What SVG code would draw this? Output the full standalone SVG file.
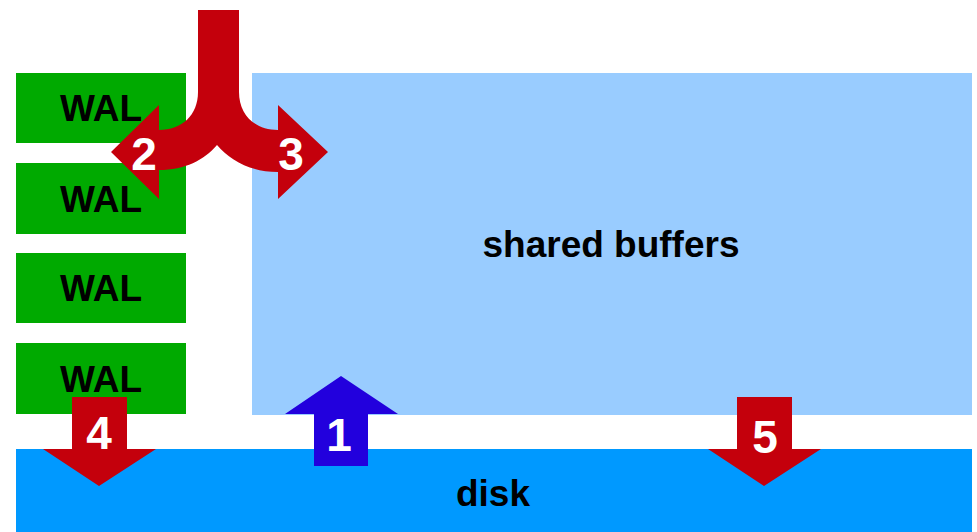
<svg xmlns="http://www.w3.org/2000/svg" width="977" height="532" viewBox="0 0 977 532">
<style>
.lbl{font-family:"Liberation Sans",Arial,sans-serif;font-weight:bold;font-size:37px;fill:#000;text-anchor:middle}
.num{font-family:"Liberation Sans",Arial,sans-serif;font-weight:bold;font-size:46px;fill:#fff;text-anchor:middle}
.wal{fill:#00aa00}
.red{fill:#c4000c}
</style>
<rect width="977" height="532" fill="#fff"/>
<g id="shared-buffers">
<rect x="252" y="73" width="720" height="342" fill="#99ccff"/>
<text class="lbl" x="611" y="257">shared buffers</text>
</g>
<g id="disk">
<rect x="16" y="449" width="956" height="83" fill="#0099ff"/>
<text class="lbl" x="493" y="506">disk</text>
</g>
<g id="wal1"><rect class="wal" x="16" y="73" width="170" height="70"/><text class="lbl" x="101" y="121">WAL</text></g>
<g id="wal2"><rect class="wal" x="16" y="163" width="170" height="71"/><text class="lbl" x="101" y="212">WAL</text></g>
<g id="wal3"><rect class="wal" x="16" y="253" width="170" height="70"/><text class="lbl" x="101" y="301">WAL</text></g>
<g id="wal4"><rect class="wal" x="16" y="343" width="170" height="71"/><text class="lbl" x="101" y="392">WAL</text></g>
<g id="connectors">
<g id="arrow-2-3">
<path class="red" d="M198,10 L239,10 L239,92 C239,115 255,130 278,130 L278,105 L328,152 L278,199 L278,172 C250,172 230,160 217,145 C204,160 185,170 159,170 L159,199 L111,152 L159,105 L159,130 C182,130 198,115 198,92 Z"/>
<text class="num" x="144" y="170">2</text>
<text class="num" x="291" y="170">3</text>
</g>
<g id="arrow-4">
<path class="red" d="M72,397 L127,397 L127,449 L156,449 L99,486 L43,449 L72,449 Z"/>
<text class="num" x="99" y="449">4</text>
</g>
<g id="arrow-1">
<path fill="#2200dd" d="M314,466 L368,466 L368,414 L398,414 L341,376 L285,414 L314,414 Z"/>
<text class="num" x="339" y="451">1</text>
</g>
<g id="arrow-5">
<path class="red" d="M737,397 L792,397 L792,449 L821,449 L764,486 L708,449 L737,449 Z"/>
<text class="num" x="765" y="453">5</text>
</g>
</g>
</svg>
